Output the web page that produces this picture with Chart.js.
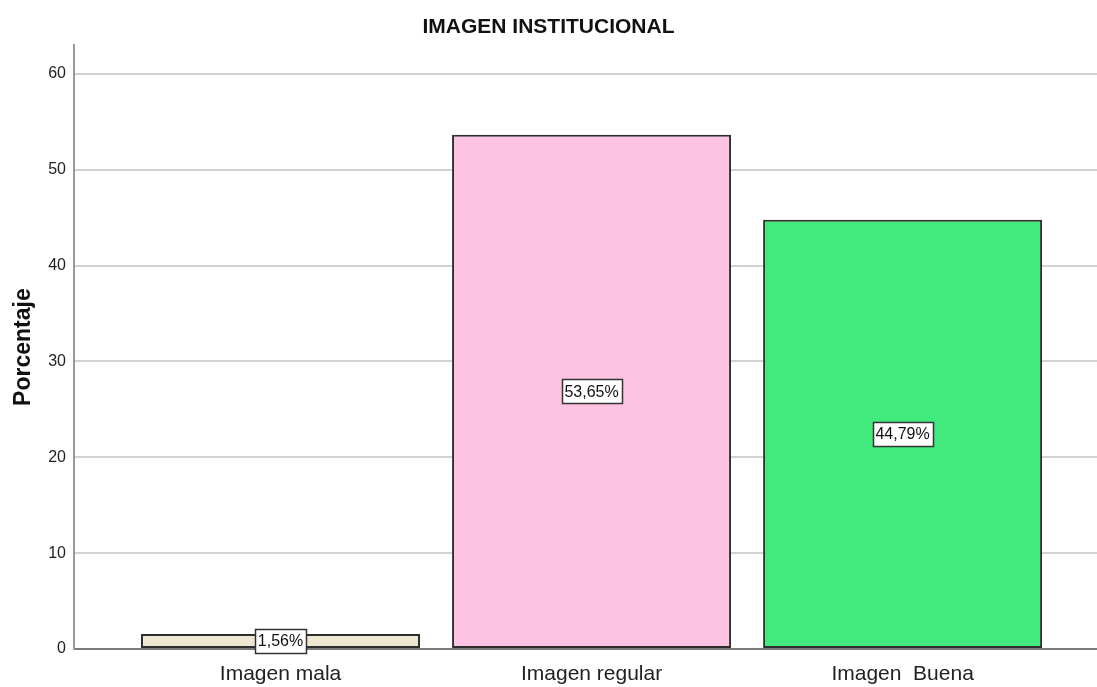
<!DOCTYPE html>
<html>
<head>
<meta charset="utf-8">
<title>IMAGEN INSTITUCIONAL</title>
<script src="https://cdn.jsdelivr.net/npm/chart.js@4/dist/chart.umd.min.js"></script>
<style>
  html, body { margin: 0; padding: 0; background: #ffffff; }
  #wrap { width: 1097px; height: 687px; }
</style>
</head>
<body>
<div id="wrap"><canvas id="c" width="1097" height="687"></canvas></div>
<script>
// Survey result: perceived institutional image, percent of respondents
const categories = ['Imagen mala', 'Imagen regular', 'Imagen  Buena'];
const percentages = [1.56, 53.65, 44.79];
const valueLabels = ['1,56%', '53,65%', '44,79%'];
const yTicks = [0, 10, 20, 30, 40, 50, 60];

const barColors = ['#EEE8D3', '#FEC2E2', '#42EA7E'];
const FONT = '"Liberation Sans", Arial, sans-serif';

// Boxed percentage label in the middle of each bar
const boxedLabels = {
  id: 'boxedLabels',
  afterDatasetsDraw(chart) {
    const ctx = chart.ctx;
    const meta = chart.getDatasetMeta(0);
    ctx.save();
    ctx.font = '16px ' + FONT;
    ctx.textAlign = 'center';
    ctx.textBaseline = 'middle';
    meta.data.forEach((bar, i) => {
      const text = valueLabels[i];
      const cx = bar.x;
      const cy = (bar.y + bar.base) / 2;
      const w = Math.round(ctx.measureText(text).width + 6);
      const h = 24;
      const x0 = Math.round(cx - w / 2) + 0.5;
      const y0 = Math.round(cy - h / 2) + 0.5;
      ctx.fillStyle = '#ffffff';
      ctx.fillRect(x0, y0, w, h);
      ctx.strokeStyle = '#333333';
      ctx.lineWidth = 1.5;
      ctx.strokeRect(x0, y0, w, h);
      ctx.fillStyle = '#111111';
      ctx.fillText(text, cx, cy + 1);
    });
    ctx.restore();
  }
};

new Chart(document.getElementById('c'), {
  type: 'bar',
  data: {
    datasets: [{
      data: percentages.map((v, i) => ({ x: i + 1, y: v })),
      backgroundColor: barColors,
      borderColor: '#2e2e2e',
      borderWidth: 2,
      borderSkipped: false,
      categoryPercentage: 1,
      barPercentage: 0.897
    }]
  },
  options: {
    responsive: false,
    animation: false,
    layout: { padding: { top: 0, right: 0, bottom: 0, left: 0 } },
    plugins: {
      legend: { display: false },
      tooltip: { enabled: false },
      title: {
        display: true,
        text: 'IMAGEN INSTITUCIONAL',
        color: '#111111',
        font: { family: FONT, size: 21, weight: 'bold', lineHeight: 1.2 },
        padding: { top: 15, bottom: 5 }
      }
    },
    scales: {
      x: {
        type: 'linear',
        offset: false,
        min: 0.336,
        max: 3.625,
        afterBuildTicks: (scale) => { scale.ticks = categories.map((c, i) => ({ value: i + 1 })); },
        afterFit: (scale) => { scale.height = 38; },
        ticks: {
          autoSkip: false,
          maxRotation: 0,
          padding: 13,
          color: '#222222',
          font: { family: FONT, size: 21 },
          callback: (v) => categories[v - 1]
        },
        grid: { display: false, drawTicks: false, offset: false },
        border: { display: true, color: '#7a7a7a', width: 2 }
      },
      y: {
        min: 0,
        max: 63,
        afterBuildTicks: (scale) => { scale.ticks = yTicks.map(v => ({ value: v })); },
        afterFit: (scale) => { scale.width = 74; },
        ticks: {
          padding: 8,
          color: '#222222',
          font: { family: FONT, size: 16 }
        },
        grid: { color: '#d2d2d2', lineWidth: 2, drawTicks: false },
        border: { display: true, color: '#9a9a9a', width: 2 },
        title: {
          display: true,
          text: 'Porcentaje',
          color: '#111111',
          font: { family: FONT, size: 23, weight: 'bold' },
          padding: { top: 10, bottom: 4 }
        }
      }
    }
  },
  plugins: [boxedLabels]
});
</script>
</body>
</html>
